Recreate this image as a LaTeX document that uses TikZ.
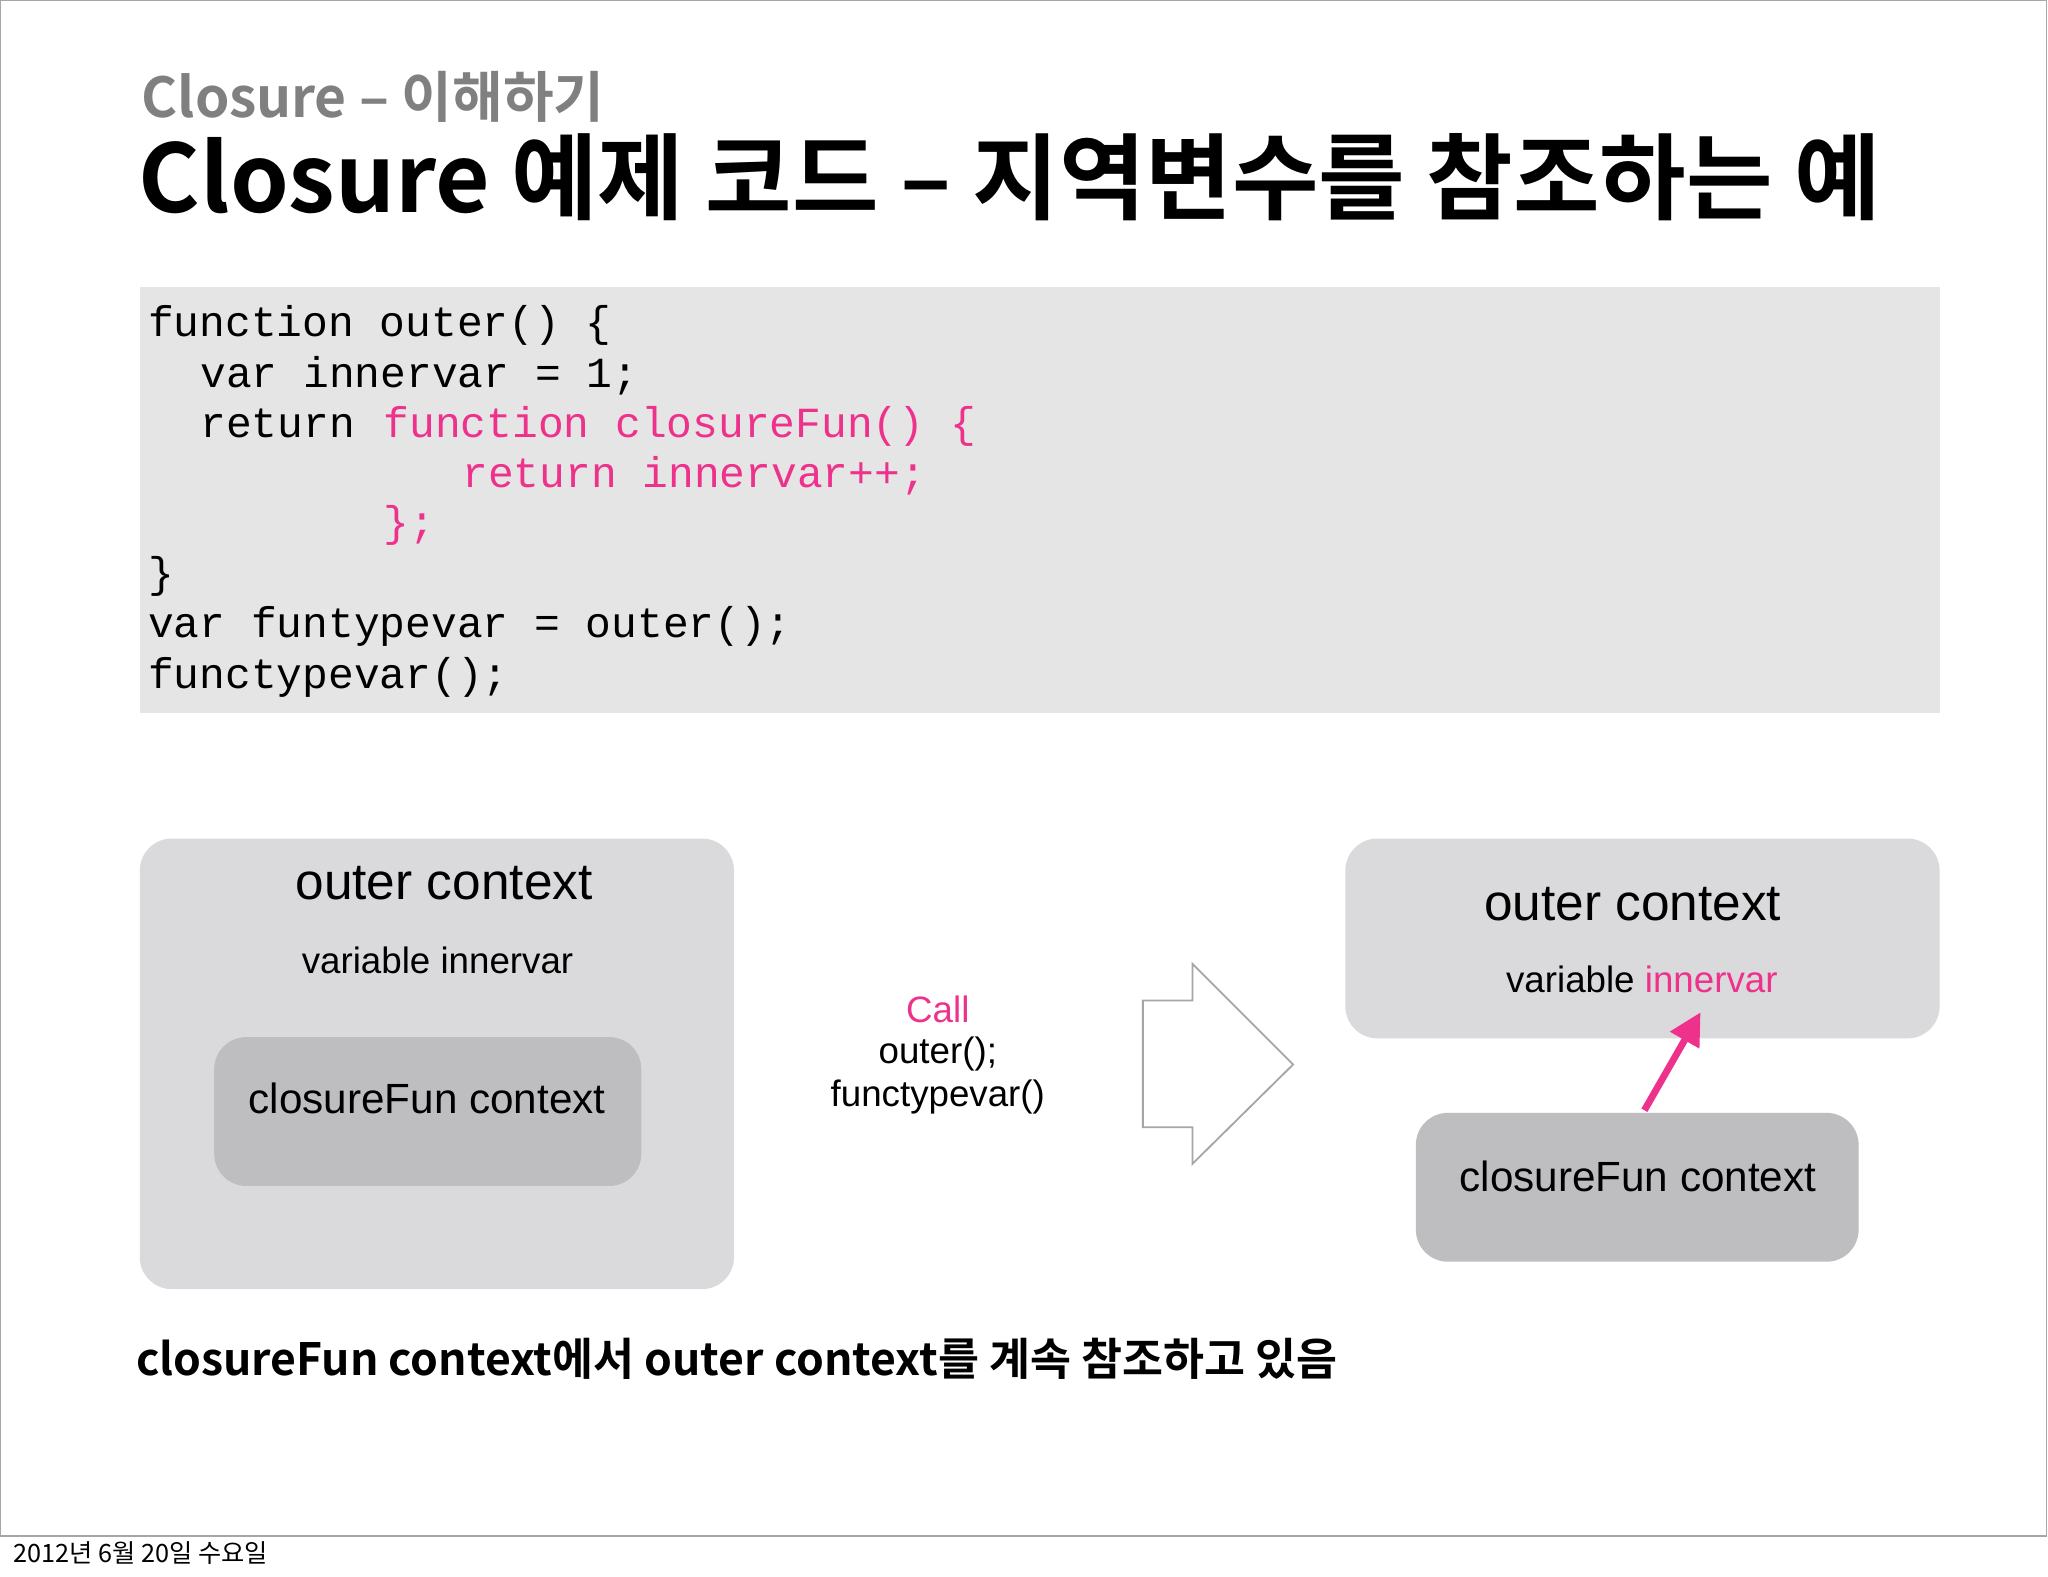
\documentclass[tikz,border=0pt]{standalone}
\usepackage{fontspec}
\usetikzlibrary{arrows.meta}
\setmainfont{Liberation Sans}
\setmonofont{Liberation Mono}
\newfontfamily\kr{Noto Sans CJK KR}
\newfontfamily\krb{Noto Sans CJK KR Bold}
\definecolor{pinkc}{RGB}{238,50,140}
\definecolor{codebg}{RGB}{229,229,229}
\definecolor{boxa}{RGB}{218,218,220}
\definecolor{boxb}{RGB}{190,190,193}
\tikzset{
 code/.style={anchor=base west,inner sep=0pt,font=\ttfamily\fontsize{18.7}{20}\selectfont},
 ctx/.style={rounded corners=14pt},
 lbl/.style={inner sep=0pt,font=\fontsize{16}{18}\selectfont},
}
\begin{document}
\begin{tikzpicture}[x=0.02cm,y=-0.02cm]
\useasboundingbox (0,0) rectangle (1568,1207);
\fill[white] (0,0) rectangle (1568,1207);
\draw[gray!70,line width=0.6pt] (0,0) rectangle (1567,1176);
\node[anchor=base west,inner sep=0pt,text=black!50,font=\krb\fontsize{24}{26}\selectfont] (t1) at (108,90) {Closure – 이해하기};
\node[anchor=base west,inner sep=0pt,font=\krb\fontsize{41}{44}\selectfont] (t2) at (106,163) {Closure 예제 코드 – 지역변수를 참조하는 예};
\fill[codebg] (107,220) rectangle (1485,546);
\def\cw{20.05}
\node[code] (c1) at (113,258) {function outer() \{};
\node[code] (c2) at (113+2*\cw,297) {var innervar = 1;};
\node[code] (c3) at (113+2*\cw,335) {return};
\node[code,text=pinkc] (c3b) at (113+9*\cw,335) {function closureFun() \{};
\node[code,text=pinkc] (c4) at (113+12*\cw,373) {return innervar++;};
\node[code,text=pinkc] (c5) at (113+9*\cw,411) {\};};
\node[code] (c6) at (113,450) {\}};
\node[code] (c7) at (113,488) {var funtypevar = outer();};
\node[code] (c8) at (113,527) {functypevar();};
% left
\fill[boxa,ctx] (107,642) rectangle (562,987);
\fill[boxb,ctx] (164,794) rectangle (491,908);
\node[lbl,font=\fontsize{22.4}{24}\selectfont] (lo) at (340,676) {outer context};
\node[lbl] (lv) at (335,735) {variable innervar};
\node[lbl,font=\fontsize{18.4}{20}\selectfont] (lc) at (327,841) {closureFun context};
% middle
\node[lbl,text=pinkc] (call) at (718,773) {Call};
\node[lbl] (o1) at (718,807) {outer();};
\node[lbl] (o2) at (718,840) {functypevar()};
\draw[black!35,line width=0.8pt,fill=white] (875,766) -- (913,766) -- (913,738) -- (990,815) -- (913,891) -- (913,863) -- (875,863) -- cycle;
% right
\fill[boxa,ctx] (1030,642) rectangle (1485,795);
\fill[boxb,ctx] (1084,852) rectangle (1423,966);
\node[lbl,font=\fontsize{22.4}{24}\selectfont] (ro) at (1250,692) {outer context};
\node[lbl] (rv) at (1257,750) {variable \textcolor{pinkc}{innervar}};
\node[lbl,font=\fontsize{18.4}{20}\selectfont] (rc) at (1254,901) {closureFun context};
\coordinate (as) at (1259,850);
\coordinate (ae) at (1302,775);
\draw[pinkc,line width=3pt,-{Triangle[length=14pt,width=14pt]}] (as) -- (ae);
\node[anchor=base west,inner sep=0pt,font=\krb\fontsize{19.4}{22}\selectfont] (bt) at (104,1053) {closureFun context에서 outer context를 계속 참조하고 있음};
\node[anchor=base west,inner sep=0pt,font=\kr\fontsize{11}{13}\selectfont] (ft) at (10,1196) {2012년 6월 20일 수요일};
\end{tikzpicture}
\end{document}
